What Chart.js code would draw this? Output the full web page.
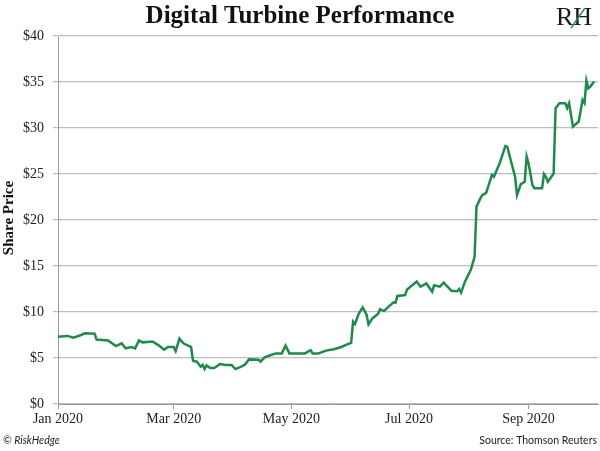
<!DOCTYPE html>
<html>
<head>
<meta charset="utf-8">
<script src="https://cdn.jsdelivr.net/npm/chart.js@4.4.0/dist/chart.umd.min.js"></script>
<style>
  html, body { margin: 0; padding: 0; background: #fff; }
</style>
</head>
<body>
<canvas id="chart" width="600" height="451"></canvas>
<script>
// day number counted from Jan 1 2020, closing share price in $
const days = [0, 5, 8, 12, 14, 19, 20, 26, 30, 33, 35, 38, 40, 42, 44, 49, 52, 55, 57, 60,
  61, 63, 65, 68, 69, 70, 72, 74, 75, 76, 77, 79, 81, 84, 87, 90, 92, 95, 97, 99,
  104, 105, 107, 110, 113, 116, 118, 120, 124, 128, 131, 132, 135, 139, 143, 147, 149, 152, 153, 154,
  156, 158, 160, 161, 163, 166, 167, 169, 172, 174, 175, 176, 180, 181, 186, 188, 191, 194, 195, 198,
  200, 204, 207, 208, 209, 211, 214, 216, 217, 219, 220, 222, 225, 226, 229, 232, 233, 235, 237, 238,
  240, 242, 243, 244, 246, 247, 251, 252, 253, 254, 257, 258, 260, 263, 264, 265, 267, 270, 272, 273,
  274, 275, 276, 278];
const prices = [7.3, 7.4, 7.2, 7.5, 7.7, 7.65, 7.0, 6.9, 6.3, 6.6, 6.05, 6.2, 6.05, 6.9, 6.7, 6.8, 6.4, 5.9, 6.2, 6.2,
  5.75, 7.1, 6.6, 6.3, 6.2, 4.7, 4.6, 4.05, 4.25, 3.8, 4.2, 3.9, 3.9, 4.35, 4.25, 4.25, 3.8, 4.05, 4.3, 4.85,
  4.8, 4.6, 5.05, 5.3, 5.5, 5.5, 6.35, 5.5, 5.5, 5.5, 5.85, 5.5, 5.5, 5.8, 5.95, 6.2, 6.4, 6.65, 8.95, 8.7,
  9.85, 10.5, 9.7, 8.65, 9.3, 9.8, 10.3, 10.1, 10.7, 11.05, 11.0, 11.75, 11.85, 12.45, 13.3, 12.75, 13.1, 12.2, 12.9, 12.75,
  13.2, 12.3, 12.25, 12.5, 12.1, 13.3, 14.55, 16.0, 21.45, 22.35, 22.7, 22.95, 24.9, 24.7, 26.15, 28.05, 27.95, 26.3, 24.7, 22.7,
  23.9, 24.15, 26.9, 26.15, 23.8, 23.45, 23.45, 25.0, 24.7, 24.15, 25.05, 32.15, 32.7, 32.7, 32.15, 32.7, 30.15, 30.7, 33.05, 32.7,
  35.15, 34.3, 34.5, 35.05];

const tickDays = [0, 60, 121, 182, 244];
const tickLabels = ['Jan 2020', 'Mar 2020', 'May 2020', 'Jul 2020', 'Sep 2020'];

const points = days.map((d, i) => ({ x: d, y: prices[i] }));

const textPlugin = {
  id: 'texts',
  afterDraw(chart) {
    const c = chart.ctx;
    c.save();
    c.fillStyle = '#111';
    c.textAlign = 'center';
    c.textBaseline = 'middle';
    c.font = 'bold 25px "Liberation Serif"';
    c.fillText('Digital Turbine Performance', 300, 17);

    // logo
    c.font = '26px "Liberation Serif"';
    c.fillStyle = '#1a1a1a';
    c.fillText('RH', 574, 18);
    c.strokeStyle = '#2e8b57';
    c.lineWidth = 1.5;
    c.beginPath();
    c.moveTo(571, 28);
    c.lineTo(585, 8);
    c.stroke();

    // y axis title
    c.save();
    c.translate(9, 218);
    c.rotate(-Math.PI / 2);
    c.fillStyle = '#111';
    c.font = 'bold 15px "Liberation Serif"';
    c.fillText('Share Price', 0, 0);
    c.restore();

    // footer
    c.fillStyle = '#222';
    c.font = 'italic 10.5px "Lato"';
    c.textAlign = 'left';
    c.fillText('\u00A9 RiskHedge', 3, 441);
    c.font = '10.5px "Lato"';
    c.textAlign = 'right';
    c.fillText('Source: Thomson Reuters', 597, 441);
    c.restore();
  }
};

new Chart(document.getElementById('chart'), {
  type: 'line',
  data: {
    datasets: [{
      data: points,
      borderColor: '#1f8a4c',
      borderWidth: 2.5,
      pointRadius: 0,
      tension: 0,
      fill: false
    }]
  },
  options: {
    responsive: false,
    animation: false,
    layout: { padding: { top: 36, right: 2, left: 0, bottom: 0 } },
    plugins: { legend: { display: false }, tooltip: { enabled: false } },
    scales: {
      x: {
        type: 'linear',
        min: 0,
        max: 280,
        afterFit: scale => { scale.height = 47; },
        afterBuildTicks: scale => { scale.ticks = tickDays.map(v => ({ value: v })); },
        ticks: {
          autoSkip: false,
          maxRotation: 0,
          padding: 2,
          color: '#222',
          font: { family: 'Liberation Serif', size: 14 },
          callback: v => tickLabels[tickDays.indexOf(v)]
        },
        grid: { drawOnChartArea: false, drawTicks: true, tickLength: 5, color: '#999' },
        border: { color: '#999' }
      },
      y: {
        min: 0,
        max: 40,
        afterFit: scale => { scale.width = 58; },
        ticks: {
          stepSize: 5,
          padding: 9,
          color: '#222',
          font: { family: 'Liberation Serif', size: 14 },
          callback: v => '$' + v
        },
        grid: { color: '#bdbdbd', lineWidth: 1.2, tickLength: 5 },
        border: { color: '#999' }
      }
    }
  },
  plugins: [textPlugin]
});
</script>
</body>
</html>
